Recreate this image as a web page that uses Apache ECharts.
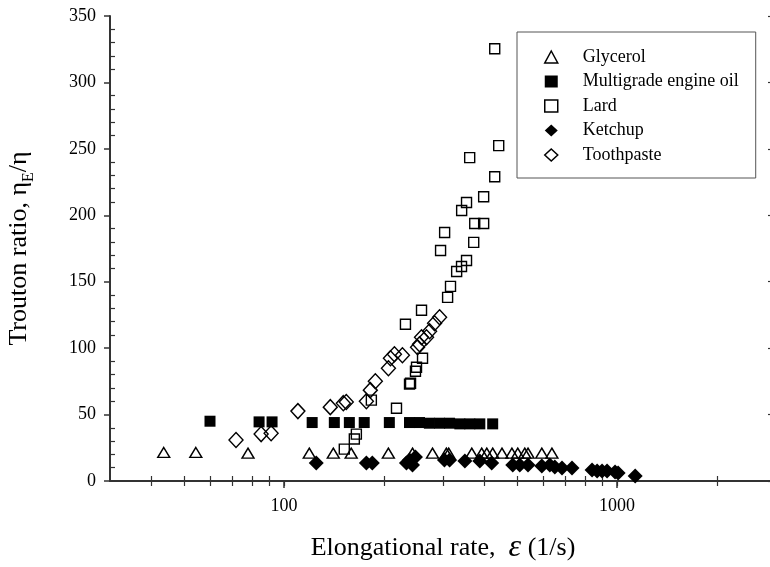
<!DOCTYPE html>
<html>
<head>
<meta charset="utf-8">
<script src="https://cdn.jsdelivr.net/npm/echarts@6/dist/echarts.min.js"></script>
<style>html,body{margin:0;padding:0;background:#fff;overflow:hidden;width:770px;height:567px;}#c{width:776px;height:567px;}</style>
</head>
<body>
<div id="c"></div>
<script>
// ---- data ----
var seriesNames = ['Glycerol', 'Multigrade engine oil', 'Lard', 'Ketchup', 'Toothpaste'];

var glycerolX = [43.5, 54.3, 77.9, 119, 140.5, 159, 205.6, 243, 279, 307, 312, 366, 392, 406, 423, 451, 483, 503, 528, 540, 594, 637];
var glycerolY = [21.5, 21.5, 21, 21, 21, 21, 21, 21, 21, 21, 21, 21, 21, 21, 21, 21, 21, 21, 21, 21, 21, 21];

var oilX = [59.9, 84.1, 92, 121.4, 141.5, 157, 174, 207, 238, 255, 273, 293, 314, 337, 361, 387, 423];
var oilY = [45, 44.5, 44.5, 44, 44, 44, 44, 44, 44, 44, 43.5, 43.5, 43.5, 43, 43, 43, 43];

var lardX = [151.6, 162.5, 164.8, 182.8, 217.5, 231.4, 238, 239.7, 248, 249.8, 258.6, 260.4, 295, 303.4, 309.7, 316, 329.7, 341, 341.3, 353, 353, 360.8, 371, 373.6, 397.4, 397.4, 429, 441, 429];
var lardY = [24, 31.6, 35.3, 60.9, 54.8, 118, 72.9, 73.6, 82.6, 85.6, 128.5, 92.4, 173.5, 187, 138.2, 146.5, 157.7, 161.5, 203.6, 166, 209.6, 243.4, 179.6, 193.8, 193.8, 214, 229, 252.4, 325.3];

var ketchupX = [124.9, 176.6, 184, 233, 238, 243, 248, 303, 314, 349, 387, 420, 486, 510, 540, 594, 628, 650, 683, 732, 841, 871, 901, 933, 986, 1007, 1133];
var ketchupY = [13.5, 13.5, 13.5, 13.5, 15.8, 12, 18, 15.8, 15.8, 15, 15, 13.5, 12, 12, 12, 11.3, 12, 10.5, 9.8, 9.8, 8.3, 7.5, 7.5, 7.5, 6.8, 6, 3.8];

var toothX = [71.7, 85.3, 91.4, 110, 137.6, 150.6, 153.7, 176.6, 181.5, 187.9, 205.7, 208.6, 214.4, 226.6, 251.6, 255, 258.6, 267.7, 273.4, 283, 293];
var toothY = [30.8, 35.3, 36, 52.6, 55.6, 58.6, 59.4, 60.1, 68.4, 75.1, 84.9, 92.4, 95.4, 94.7, 100.7, 102.9, 108.2, 108.2, 112.7, 118.7, 123.2];

var xMajorTicks = [100, 1000];
var xMinorTicks = [40, 50, 60, 70, 80, 90, 200, 300, 400, 500, 600, 700, 800, 900, 2000];
var xTopTicks = [40, 50, 60, 70, 80, 90, 100, 200, 300, 400, 500, 600, 700, 800, 900, 1000, 2000];
var yMinorTicks = [10, 20, 30, 40, 60, 70, 80, 90, 110, 120, 130, 140, 160, 170, 180, 190, 210, 220, 230, 240, 260, 270, 280, 290, 310, 320, 330, 340];

function pairs(xs, ys) { return xs.map(function (v, i) { return [v, ys[i]]; }); }

var FONT = 'Liberation Serif';
var AX = '#333';
var open = 'rgba(255,255,255,0)';

var chart = echarts.init(document.getElementById('c'), null, {renderer: 'canvas'});
var xBase = {type: 'log', logBase: 10, min: 30, max: 3000, gridIndex: 0, splitLine: {show: false}};

chart.setOption({
  animation: false,
  backgroundColor: '#fff',
  grid: {left: 110, right: 0, top: 16, bottom: 86, containLabel: false, outerBoundsMode: 'none'},
  legend: {
    orient: 'vertical', left: 517, top: 32,
    padding: [16, 17, 14, 27],
    itemWidth: 13, itemHeight: 12, itemGap: 6.5,
    borderColor: '#555', borderWidth: 1, backgroundColor: '#fff',
    textStyle: {fontFamily: FONT, fontSize: 18, color: '#000', lineHeight: 18, padding: [0, 0, 0, 20]},
    data: [
      {name: seriesNames[0], icon: 'triangle', itemStyle: {color: '#fff', borderColor: '#000', borderWidth: 1.5, opacity: 1}},
      {name: seriesNames[1], icon: 'rect', itemStyle: {color: '#000', borderWidth: 0, opacity: 1}},
      {name: seriesNames[2], icon: 'rect', itemStyle: {color: '#fff', borderColor: '#000', borderWidth: 1.5, opacity: 1}},
      {name: seriesNames[3], icon: 'diamond', itemStyle: {color: '#000', borderWidth: 0, opacity: 1}},
      {name: seriesNames[4], icon: 'diamond', itemStyle: {color: '#fff', borderColor: '#000', borderWidth: 1.5, opacity: 1}}
    ]
  },
  xAxis: [
    Object.assign({}, xBase, {
      position: 'bottom',
      name: '{a|Elongational rate,  }{e|ε}{a| (1/s)}',
      nameLocation: 'middle', nameGap: 51,
      nameTextStyle: {rich: {
        a: {fontFamily: FONT, fontSize: 26, color: '#000'},
        e: {fontFamily: FONT, fontSize: 32, fontStyle: 'italic', color: '#000'}
      }},
      axisLine: {show: true, lineStyle: {color: AX, width: 2}},
      axisTick: {show: true, inside: false, length: 7, customValues: xMajorTicks, lineStyle: {color: AX, width: 1.5}},
      axisLabel: {show: true, customValues: xMajorTicks, margin: 16, fontFamily: FONT, fontSize: 18, color: '#000',
        formatter: function (v) { return String(Math.round(v)); }}
    }),
    Object.assign({}, xBase, {
      position: 'bottom',
      axisLine: {show: false},
      axisTick: {show: true, inside: true, length: 5, customValues: xMinorTicks, lineStyle: {color: AX, width: 1.2}},
      axisLabel: {show: false}
    }),
    Object.assign({}, xBase, {
      position: 'top',
      axisLine: {show: true, lineStyle: {color: AX, width: 2}},
      axisTick: {show: true, inside: true, length: 5, customValues: xTopTicks, lineStyle: {color: AX, width: 1.2}},
      axisLabel: {show: false}
    })
  ],
  yAxis: [
    {
      type: 'value', min: 0, max: 350, interval: 50, position: 'left',
      name: '{a|Trouton ratio, η}{s|E}{a|/η}',
      nameLocation: 'middle', nameGap: 73, nameRotate: 90,
      nameTextStyle: {rich: {
        a: {fontFamily: FONT, fontSize: 26, color: '#000', lineHeight: 31, verticalAlign: 'top'},
        s: {fontFamily: FONT, fontSize: 16, color: '#000', lineHeight: 31, verticalAlign: 'bottom'}
      }},
      splitLine: {show: false},
      axisLine: {show: true, lineStyle: {color: AX, width: 2}},
      axisTick: {show: true, inside: false, length: 6, lineStyle: {color: AX, width: 1.5}},
      axisLabel: {show: true, margin: 14, fontFamily: FONT, fontSize: 18, color: '#000'}
    },
    {
      type: 'value', min: 0, max: 350, interval: 50, position: 'left',
      splitLine: {show: false},
      axisLine: {show: false},
      axisTick: {show: true, inside: true, length: 5, customValues: yMinorTicks, lineStyle: {color: AX, width: 1.2}},
      axisLabel: {show: false}
    },
    {
      type: 'value', min: 0, max: 350, interval: 50, position: 'right',
      splitLine: {show: false},
      axisLine: {show: true, lineStyle: {color: AX, width: 2}},
      axisTick: {show: true, inside: true, length: 8, lineStyle: {color: AX, width: 1.2}},
      axisLabel: {show: false}
    }
  ],
  series: [
    {name: seriesNames[0], type: 'scatter', xAxisIndex: 0, yAxisIndex: 0, data: pairs(glycerolX, glycerolY),
      symbol: 'triangle', symbolSize: [12, 10], itemStyle: {color: open, borderColor: '#000', borderWidth: 1.4, opacity: 1}},
    {name: seriesNames[1], type: 'scatter', xAxisIndex: 0, yAxisIndex: 0, data: pairs(oilX, oilY),
      symbol: 'rect', symbolSize: 11, itemStyle: {color: '#000', opacity: 1}},
    {name: seriesNames[2], type: 'scatter', xAxisIndex: 0, yAxisIndex: 0, data: pairs(lardX, lardY),
      symbol: 'rect', symbolSize: 10, itemStyle: {color: open, borderColor: '#000', borderWidth: 1.4, opacity: 1}},
    {name: seriesNames[3], type: 'scatter', xAxisIndex: 0, yAxisIndex: 0, data: pairs(ketchupX, ketchupY),
      symbol: 'diamond', symbolSize: 15, itemStyle: {color: '#000', opacity: 1}},
    {name: seriesNames[4], type: 'scatter', xAxisIndex: 0, yAxisIndex: 0, data: pairs(toothX, toothY),
      symbol: 'diamond', symbolSize: [14, 15], itemStyle: {color: open, borderColor: '#000', borderWidth: 1.4, opacity: 1}}
  ]
});
</script>
</body>
</html>
